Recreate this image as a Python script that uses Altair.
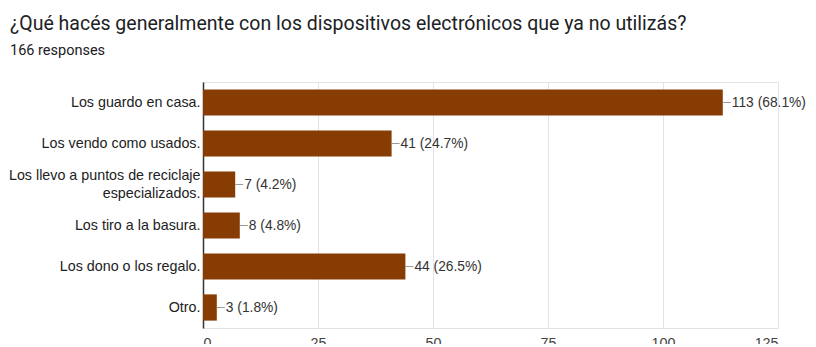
import altair as alt
import pandas as pd

categories = [
    "Los guardo en casa.",
    "Los vendo como usados.",
    "Los llevo a puntos de reciclaje|especializados.",
    "Los tiro a la basura.",
    "Los dono o los regalo.",
    "Otro.",
]
counts = [113, 41, 7, 8, 44, 3]
percents = ["68.1%", "24.7%", "4.2%", "4.8%", "26.5%", "1.8%"]
x_ticks = [0, 25, 50, 75, 100, 125]

df = pd.DataFrame({
    "cat": categories,
    "count": counts,
    "label": [f"{c} ({p})" for c, p in zip(counts, percents)],
})

BAR = "#873c03"
FONT = "Liberation Sans"

y_enc = alt.Y(
    "cat:N", sort=categories, title=None,
    scale=alt.Scale(paddingInner=0.36, paddingOuter=0.18),
    axis=alt.Axis(
        labelExpr="split(datum.label, '|')",
        labelOffset={"condition": {"test": "indexof(datum.value, '|') >= 0", "value": -9}, "value": 0},
        labelFont=FONT, labelFontSize=14.3, labelColor="#222222",
        ticks=False, labelPadding=3, domainColor="#333333", domainWidth=1.5,
        labelLimit=300, labelLineHeight=18,
    ),
)
x_enc = alt.X(
    "count:Q", title=None,
    scale=alt.Scale(domain=[0, 125], nice=False),
    axis=alt.Axis(
        values=x_ticks, labelFont=FONT, labelFontSize=14.3, labelColor="#444444",
        ticks=False, domain=False, gridColor="#e3e3e3", labelPadding=8,
    ),
)

bars = alt.Chart(df).mark_bar(color=BAR).encode(x=x_enc, y=y_enc)
leaders = alt.Chart(df).mark_rule(color="#9a9a9a", x2Offset=8, strokeWidth=1).encode(
    x="count:Q", x2="count:Q", y=alt.Y("cat:N", sort=categories, bandPosition=0.5)
)
texts = alt.Chart(df).mark_text(
    align="left", baseline="middle", dx=9, font=FONT, fontSize=13.8, color="#333333"
).encode(x="count:Q", y=alt.Y("cat:N", sort=categories), text="label:N")

chart = (
    alt.layer(bars, leaders, texts)
    .properties(
        width=575, height=246,
        autosize=alt.AutoSizeParams(type="none"),
        padding={"left": 195, "top": 74, "right": 30, "bottom": 16},
        title=alt.TitleParams(
            "¿Qué hacés generalmente con los dispositivos electrónicos que ya no utilizás?",
            subtitle="166 responses",
            anchor="start", frame="group", dx=-193,
            font="Roboto", fontSize=19.5, fontWeight="normal", color="#202124",
            subtitleFont="Roboto", subtitleFontSize=14.5, subtitleColor="#202124",
            subtitlePadding=9, offset=24,
        ),
    )
    .configure_view(stroke="#e3e3e3")
)

chart.save("out.html", embed_options={"renderer": "svg", "actions": False})
